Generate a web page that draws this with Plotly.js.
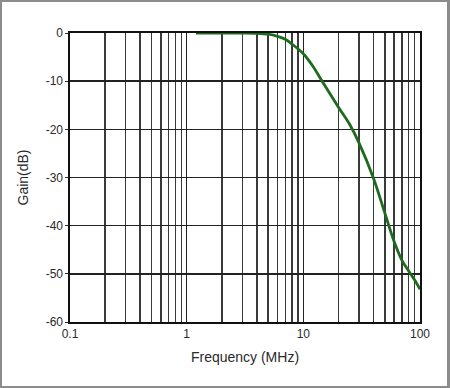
<!DOCTYPE html>
<html>
<head>
<meta charset="utf-8">
<script src="https://cdn.plot.ly/plotly-3.0.1.min.js"></script>
<style>
  html, body { margin: 0; padding: 0; background: #ffffff; }
  #wrap { position: relative; width: 450px; height: 388px; }
  #chart { position: absolute; left: 0; top: 0; width: 450px; height: 388px; }
  #frame { position: absolute; left: 0; top: 0; width: 450px; height: 388px; box-sizing: border-box;
           border-left: 2px solid #8c8c8c; border-top: 2px solid #8c8c8c;
           border-right: 3px solid #8c8c8c; border-bottom: 2px solid #8c8c8c; pointer-events: none; }
</style>
</head>
<body>
<div id="wrap">
  <div id="chart"></div>
  <div id="frame"></div>
</div>
<script>
// Frequency response
const freqMHz = [1.2, 2, 3, 4, 5, 6, 7, 8, 10, 12, 15, 20, 25, 30, 40, 50, 60, 70, 80, 90, 100];
const gainDB  = [0, 0, 0, -0.05, -0.25, -0.7, -1.3, -2.3, -4.3, -6.8, -10.6, -15.4, -19.0, -22.8, -30.2, -37.4, -43.3, -47.2, -49.4, -51.3, -53.2];

const xTickVals = [0.1, 1, 10, 100];
const xTickText = ['0.1', '1', '10', '100'];
const xMinorVals = [0.2,0.3,0.4,0.5,0.6,0.7,0.8,0.9, 2,3,4,5,6,7,8,9, 20,30,40,50,60,70,80,90];
const yTickVals = [0, -10, -20, -30, -40, -50, -60];
const yTickText = ['0', '-10', '-20', '-30', '-40', '-50', '-60'];

const trace = {
  x: freqMHz, y: gainDB, type: 'scatter', mode: 'lines',
  line: { color: '#1d6b1d', width: 2.8, shape: 'spline', smoothing: 0.9 },
  hoverinfo: 'skip'
};

const layout = {
  width: 450, height: 388,
  margin: { l: 70, r: 30, t: 33, b: 66 },
  paper_bgcolor: '#ffffff', plot_bgcolor: '#ffffff',
  showlegend: false,
  font: { family: 'Liberation Sans, Arial, sans-serif', color: '#2a2a2a', size: 12 },
  xaxis: {
    type: 'log', range: [-1, 2],
    tickmode: 'array', tickvals: xTickVals, ticktext: xTickText,
    showgrid: true, gridcolor: '#222222', gridwidth: 1.6,
    minor: { tickmode: 'array', tickvals: xMinorVals, showgrid: true, gridcolor: '#3a3a3a', gridwidth: 1.5, ticks: '' },
    showline: true, linecolor: '#111111', linewidth: 1.6, mirror: true,
    ticks: '', zeroline: false,
    tickfont: { size: 12, color: '#2a2a2a' },
    title: { text: 'Frequency (MHz)', font: { size: 14, color: '#2a2a2a' }, standoff: 12 }
  },
  yaxis: {
    range: [-60, 0],
    tickmode: 'array', tickvals: yTickVals, ticktext: yTickText,
    showgrid: true, gridcolor: '#222222', gridwidth: 1.6,
    showline: true, linecolor: '#111111', linewidth: 1.6, mirror: true,
    ticks: 'outside', ticklen: 3, tickcolor: '#2a2a2a',
    zeroline: false,
    tickfont: { size: 12, color: '#2a2a2a' },
    title: { text: 'Gain(dB)', font: { size: 14, color: '#2a2a2a' }, standoff: 14 }
  }
};

Plotly.newPlot('chart', [trace], layout, { staticPlot: true, displayModeBar: false });
</script>
</body>
</html>
